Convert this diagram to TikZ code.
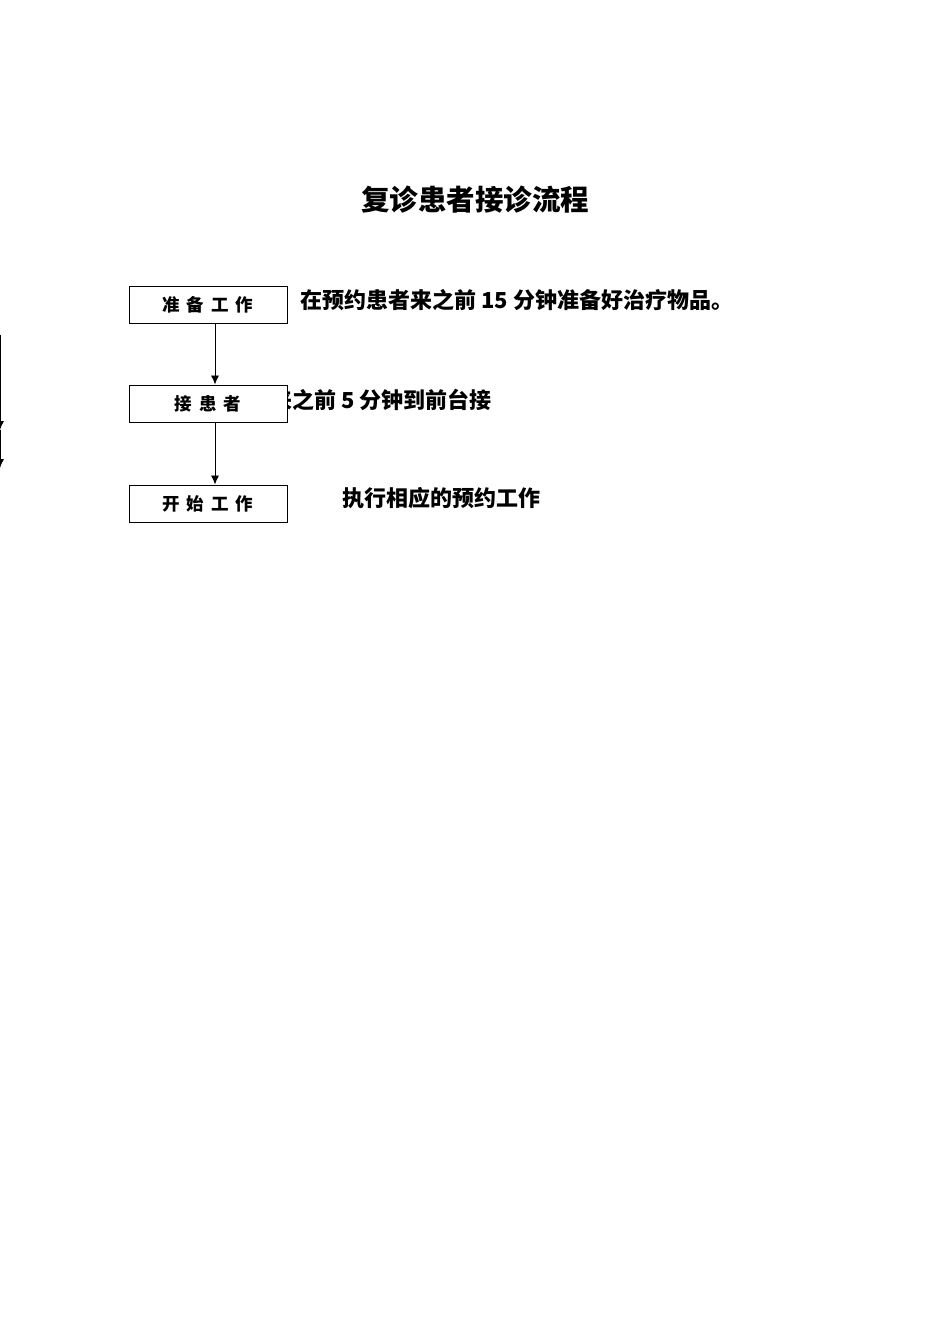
\documentclass[tikz,border=0pt]{standalone}
\usepackage{fontspec}
\setmainfont{Noto Sans CJK SC}
\usetikzlibrary{arrows.meta}

\newcommand\gap{\hspace{0.4em}}

\begin{document}
\begin{tikzpicture}[x=1pt, y=-1pt,
    stepbox/.style={draw, line width=1pt, fill=white, minimum width=158,
      minimum height=37, inner sep=0pt,
      font=\fontsize{17.5}{17.5}\selectfont\bfseries},
    note/.style={anchor=west, inner sep=0pt,
      font=\fontsize{22}{22}\selectfont\bfseries},
    flow/.style={-{Latex[length=9pt, width=8pt]}, line width=0.8pt}]
  \useasboundingbox (0,0) rectangle (950,1344);

  % title
  \node [font=\fontsize{28.5}{28.5}\selectfont\bfseries] (title) at (475, 200)
  {复诊患者接诊流程};

  % note under the second box
  \node [note] (notetwo) at (270, 400) {来之前 5 分钟到前台接};

  % steps
  \node [stepbox] (prep) at (208, 304.5) {准\gap 备\gap 工\gap 作};
  \node [stepbox] (meet) at (208, 403.5) {接\gap 患\gap 者};
  \node [stepbox] (start) at (208, 503.5) {开\gap 始\gap 工\gap 作};

  \node [note] (noteone) at (300, 300)
  {在预约患者来之前 15 分钟准备好治疗物品。};
  \node [note] (notethree) at (342, 498) {执行相应的预约工作};

  % arrows
  \coordinate (axis) at (215, 0);
  \draw [flow] (prep.south -| axis) -- (meet.north -| axis);
  \draw [flow] (meet.south -| axis) -- (start.north -| axis);

  % cut-off arrows at the left edge
  \coordinate (edgetop) at (0, 335);
  \coordinate (edgemid) at (0, 430);
  \coordinate (edgelow) at (0, 468);
  \draw [flow] (edgetop) -- (edgemid);
  \draw [flow] (edgemid) -- (edgelow);
\end{tikzpicture}
\end{document}
